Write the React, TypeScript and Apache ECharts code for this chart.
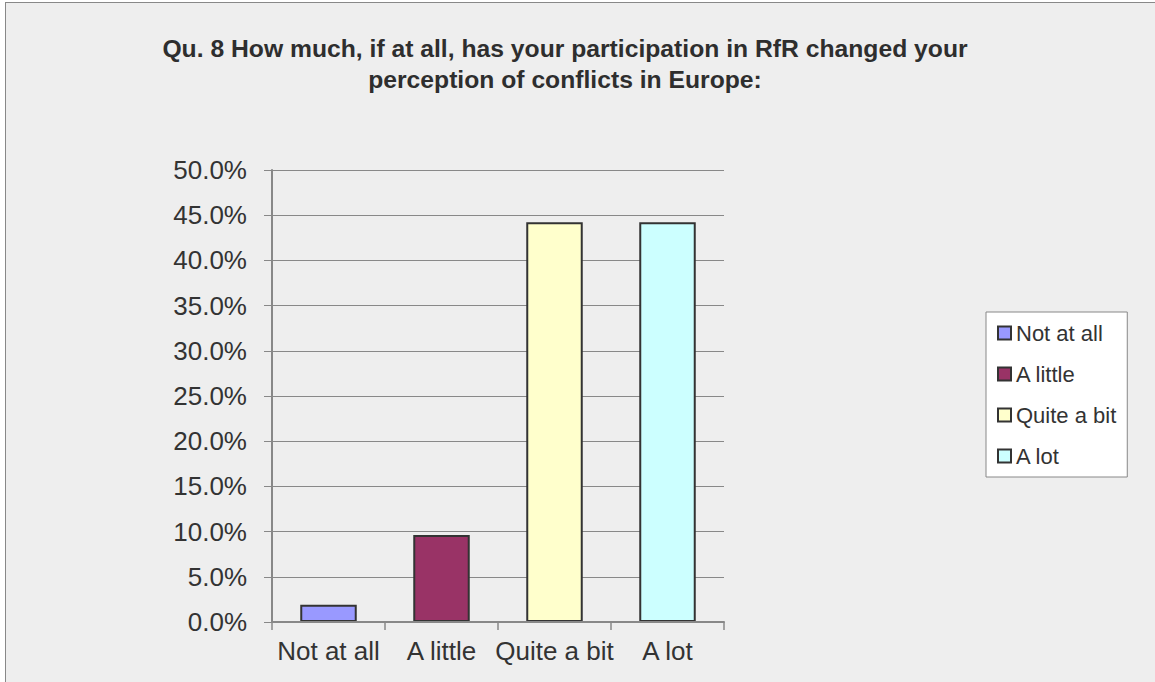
import React, { useEffect, useRef } from "react";
import * as echarts from "echarts";

// Survey answers and the share of respondents (%) for each
const categories = ["Not at all", "A little", "Quite a bit", "A lot"];
const shares = [1.92, 9.62, 44.23, 44.23];
const barColors = ["#9999ff", "#993366", "#ffffcc", "#ccffff"];
const titleLines = [
  "Qu. 8 How much, if at all, has your participation in RfR changed your",
  "perception of conflicts in Europe:",
];

const FONT = "'Liberation Sans', Arial, sans-serif";
const TEXT = "#333333";
const AXIS = "#888888";

export default function App() {
  const ref = useRef<HTMLDivElement>(null);

  useEffect(() => {
    document.body.style.margin = "0";
    document.body.style.overflow = "hidden";
    const chart = echarts.init(ref.current!, null, { renderer: "svg" });

    // one series per answer, stacked so each sits centred in its own slot
    const series = categories.map((name, i) => ({
      name,
      type: "bar",
      stack: "answers",
      barWidth: "50%",
      data: categories.map((_, j) => (j === i ? shares[i] : null)),
      itemStyle: { color: barColors[i], borderColor: "#333333", borderWidth: 2 },
    }));

    chart.setOption({
      animation: false,
      backgroundColor: "transparent",
      textStyle: { fontFamily: FONT },
      graphic: [
        {
          type: "text",
          x: 565,
          y: 33,
          style: {
            text: titleLines.join("\n"),
            fontFamily: FONT,
            fontSize: 24.7,
            fontWeight: "bold",
            lineHeight: 31,
            fill: "#2e2e2e",
            align: "center",
            verticalAlign: "top",
          },
        },
      ],
      grid: { left: 272, top: 170, width: 452, height: 452, containLabel: false },
      xAxis: {
        type: "category",
        data: categories,
        z: 3,
        axisLine: { lineStyle: { color: AXIS, width: 2 } },
        axisTick: { show: true, length: 8, alignWithLabel: false, lineStyle: { color: AXIS, width: 1.5 } },
        axisLabel: { color: TEXT, fontSize: 26, fontFamily: FONT, margin: 16, interval: 0 },
        splitLine: { show: false },
      },
      yAxis: {
        type: "value",
        min: 0,
        max: 50,
        interval: 5,
        axisLine: { show: true, lineStyle: { color: AXIS, width: 2 } },
        axisTick: { show: true, length: 8, lineStyle: { color: AXIS, width: 1 } },
        axisLabel: {
          color: TEXT,
          fontSize: 26,
          fontFamily: FONT,
          margin: 25,
          formatter: (v: number) => v.toFixed(1) + "%",
        },
        splitLine: { show: true, lineStyle: { color: AXIS, width: 1 } },
      },
      legend: {
        orient: "vertical",
        left: 986,
        top: 312,
        padding: [10, 11, 10, 11],
        itemGap: 19,
        itemWidth: 13,
        itemHeight: 13,
        icon: "rect",
        backgroundColor: "#ffffff",
        borderColor: AXIS,
        borderWidth: 1,
        borderRadius: 0,
        data: categories,
        textStyle: { color: TEXT, fontSize: 22, fontFamily: FONT, padding: [0, 0, 0, 0] },
        itemStyle: { borderColor: "#333333", borderWidth: 2 },
      },
      series,
    });

    return () => chart.dispose();
  }, []);

  return (
    <div style={{ position: "fixed", left: 0, top: 0, width: 1155, height: 682, overflow: "hidden", background: "#ffffff" }}>
      <div
        style={{
          position: "absolute",
          left: 5,
          top: 2,
          width: 1200,
          height: 720,
          background: "#eeeeee",
          borderLeft: "1px solid #888888",
          borderTop: "1px solid #888888",
        }}
      />
      <div ref={ref} style={{ position: "absolute", left: 0, top: 0, width: 1155, height: 682 }} />
    </div>
  );
}
